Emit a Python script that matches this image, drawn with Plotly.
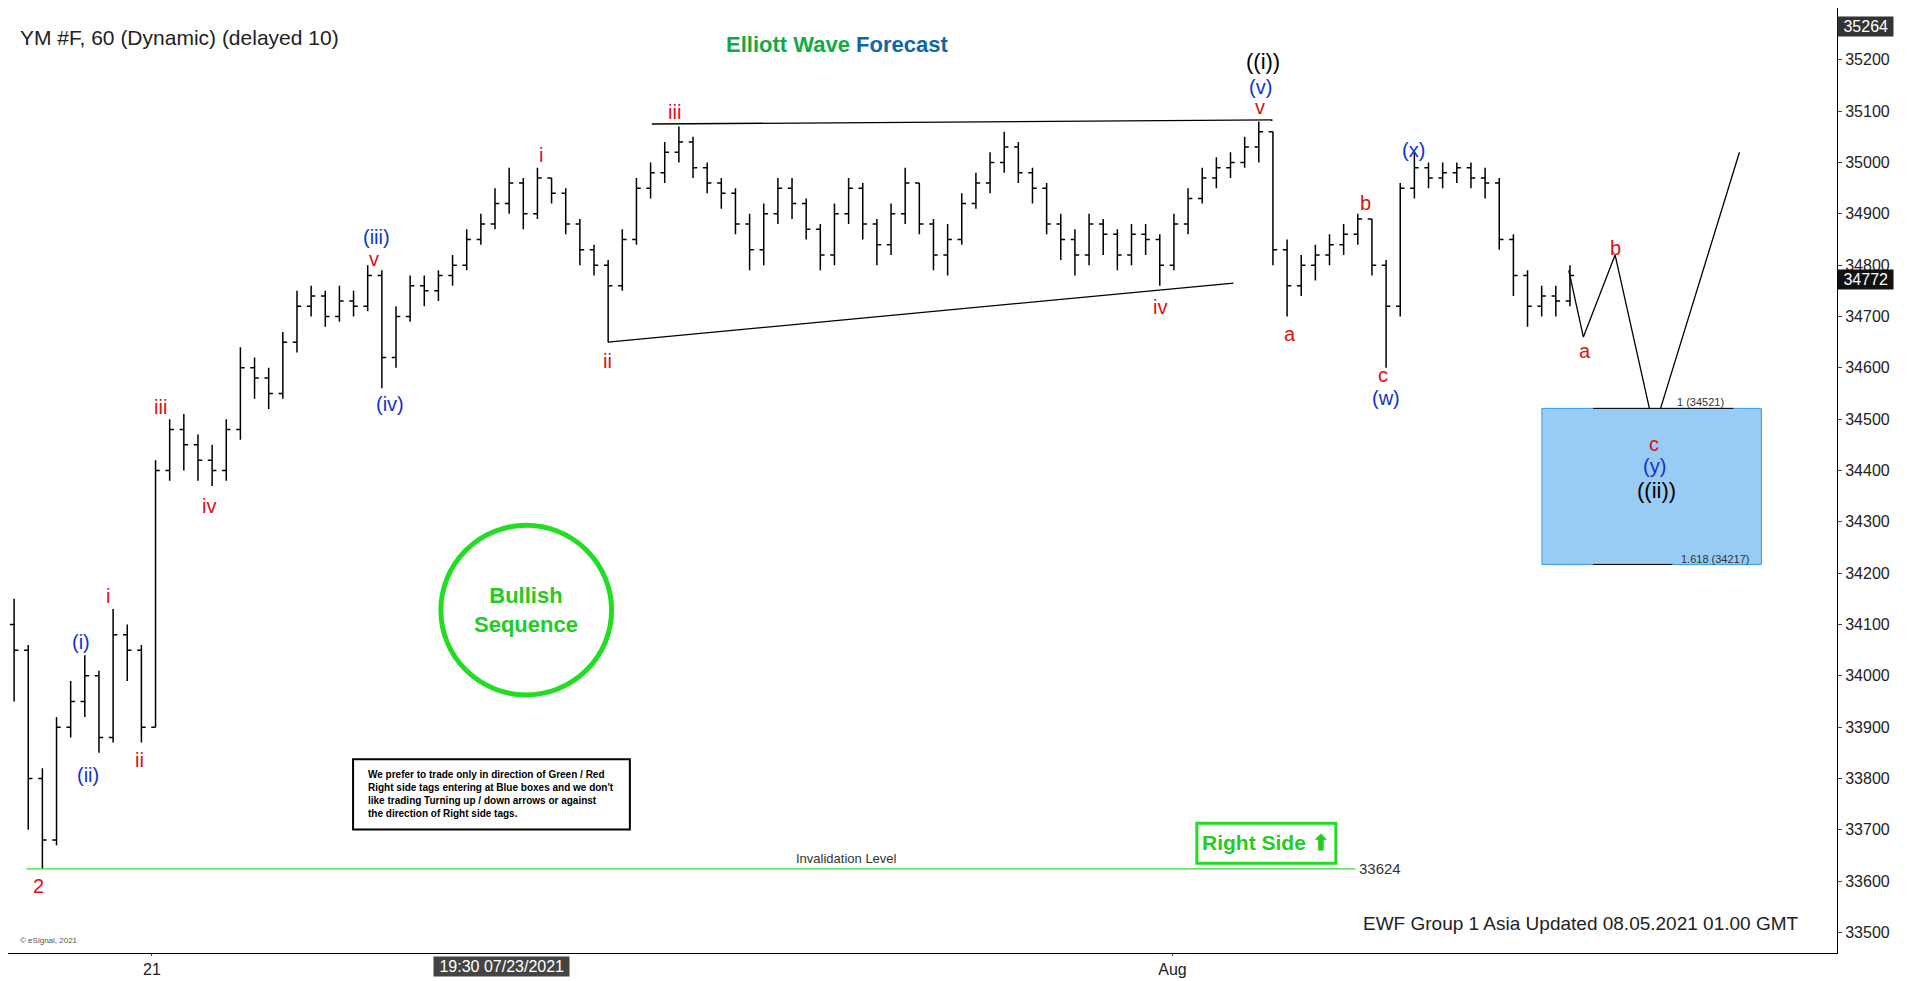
import plotly.graph_objects as go

bar_x = [5 + 11.6 * i for i in range(111)]
closes = [34050,33800,33680,33900,33950,34000,33880,34080,34050,33900,34400,34480,34450,34420,34400,34480,34600,34580,34550,34650,
          34720,34740,34700,34730,34720,34780,34620,34700,34760,34750,34780,34800,34850,34880,34920,34960,34900,34970,34940,34880,
          34830,34800,34760,34850,34950,34980,35020,35040,34990,34960,34940,34880,34830,34900,34950,34920,34870,34820,34900,34950,
          34880,34840,34900,34960,34880,34820,34850,34920,34960,35000,35030,34980,34950,34880,34850,34820,34880,34860,34820,34860,
          34850,34800,34880,34930,34970,34990,35000,35030,35060,34830,34760,34800,34820,34840,34860,34890,34800,34720,34950,34990,
          34970,34980,34990,34970,34960,34850,34780,34720,34740,34730,34780]
highs = [34150,34060,33820,33920,33990,34040,34010,34130,34100,34060,34420,34500,34510,34470,34450,34500,34640,34620,34600,34670,
         34750,34760,34750,34760,34750,34800,34790,34720,34780,34780,34790,34820,34870,34900,34950,34990,34970,34990,34970,34950,
         34890,34840,34810,34870,34970,35000,35040,35070,35050,35000,34970,34950,34900,34920,34970,34970,34930,34880,34920,34970,
         34960,34890,34920,34990,34960,34890,34880,34940,34980,35020,35060,35040,34990,34960,34900,34870,34900,34890,34870,34880,
         34880,34860,34900,34950,34990,35010,35020,35050,35080,35060,34850,34820,34840,34860,34880,34900,34890,34810,34960,35020,
         35000,35000,35000,35000,34990,34970,34860,34790,34760,34760,34800]
lows = [33950,33700,33624,33670,33880,33920,33850,33870,33990,33870,33900,34380,34400,34380,34370,34380,34460,34540,34520,34540,
        34630,34700,34680,34690,34700,34710,34560,34600,34690,34720,34730,34760,34790,34840,34870,34900,34870,34890,34920,34860,
        34800,34780,34650,34750,34840,34930,34960,35000,34970,34940,34910,34860,34790,34800,34880,34890,34850,34790,34800,34880,
        34850,34800,34820,34880,34860,34790,34780,34840,34910,34940,34980,34960,34920,34860,34810,34780,34800,34820,34790,34800,
        34820,34760,34790,34860,34920,34950,34970,34990,35000,34800,34700,34740,34770,34800,34820,34840,34780,34600,34700,34930,
        34950,34950,34960,34950,34930,34830,34740,34680,34700,34700,34720]
opens = [34100] + closes[:-1]

proj_x = [1280, 1292, 1318, 1350, 1420]
proj_y = [34790, 34660, 34820, 34480, 35020]

red_labels = [("2",25,725),("i",82,485),("ii",108,621),("iii",125,329),("iv",165,411),("v",300,207),("i",437,121),
              ("ii",492,291),("iii",547,86),("iv",945,247),("v",1027,82),("a",1051,269),("b",1113,161),("c",1128,303),
              ("a",1293,283),("b",1318,198),("c",1350,360)]
blue_labels = [("(i)",60,523),("(ii)",66,633),("(iii)",302,189),("(iv)",313,327),("(v)",1027,65),("(w)",1130,322),
               ("(x)",1153,117),("(y)",1350,378)]
black_labels = [("((i))",1029,44),("((ii))",1352,398)]

FONT = "Liberation Sans, Arial"
Y0, Y1 = 35301, 33460
def P(y):
    return Y0 - (Y0 - Y1) * y / 780

fig = go.Figure()
fig.add_trace(go.Ohlc(x=bar_x, open=opens, high=highs, low=lows, close=closes,
                      increasing_line_color="black", decreasing_line_color="black",
                      line_width=1.5, tickwidth=0.3, showlegend=False, hoverinfo="skip"))
fig.add_trace(go.Scatter(x=proj_x, y=proj_y, mode="lines", line=dict(color="black", width=1.3),
                         showlegend=False, hoverinfo="skip"))
shapes = [
    dict(type="line", x0=528, x1=1037, y0=35075, y1=35083, line=dict(color="black", width=1.3)),
    dict(type="line", x0=492, x1=1005, y0=34650, y1=34765, line=dict(color="black", width=1.3)),
    dict(type="line", x0=15, x1=1105, y0=33624, y1=33624, line=dict(color="#33dd33", width=1.3)),
    dict(type="rect", x0=1258, x1=1438, y0=34217, y1=34521, fillcolor="#99ccf5", line=dict(color="#3399ee", width=1)),
    dict(type="line", x0=1300, x1=1415, y0=34521, y1=34521, line=dict(color="black", width=1)),
    dict(type="line", x0=1300, x1=1365, y0=34217, y1=34217, line=dict(color="black", width=1)),
    dict(type="circle", x0=355, x1=495, y0=P(427), y1=P(567), line=dict(color="#22dd22", width=5)),
    dict(type="rect", x0=283, x1=510, y0=P(620), y1=P(678), line=dict(color="black", width=2), fillcolor="white"),
    dict(type="rect", x0=975, x1=1089, y0=P(673), y1=P(706), line=dict(color="#22dd22", width=3), fillcolor="white"),
]
ann = []
for t, x, y in red_labels:
    ann.append(dict(x=x, y=P(y), text=t, font=dict(color="#dd1111", size=20)))
for t, x, y in blue_labels:
    ann.append(dict(x=x, y=P(y), text=t, font=dict(color="#1133cc", size=20)))
for t, x, y in black_labels:
    ann.append(dict(x=x, y=P(y), text=t, font=dict(color="black", size=22)))
ann += [
    dict(x=425, y=P(497), text="<b>Bullish<br>Sequence</b>", font=dict(color="#22cc22", size=22)),
    dict(x=396, y=P(649), text="<b>We prefer to trade only in direction of Green / Red<br>Right side tags entering at Blue boxes and we don't<br>like trading Turning up / down arrows or against<br>the direction of Right side tags.</b>",
         font=dict(color="black", size=10), align="left"),
    dict(x=1032, y=P(689), text="<b>Right Side ⬆</b>", font=dict(color="#22cc22", size=21)),
    dict(x=688, y=P(702), text="Invalidation Level", font=dict(color="#333", size=13)),
    dict(x=1125, y=33624, text="33624", font=dict(color="#333", size=15)),
    dict(x=1388, y=P(325), text="1 (34521)", font=dict(color="#333", size=11)),
    dict(x=1400, y=P(455), text="1.618 (34217)", font=dict(color="#333", size=11)),
    dict(x=1290, y=P(756), text="EWF Group 1 Asia Updated 08.05.2021 01.00 GMT", font=dict(color="#222", size=19)),
    dict(x=8, y=P(24), text="YM #F, 60 (Dynamic) (delayed 10)", xanchor="left", font=dict(color="#222", size=21)),
    dict(x=680, y=P(30), text="<b><span style='color:#11aa44'>Elliott Wave</span> <span style='color:#1166aa'>Forecast</span></b>",
         font=dict(size=22)),
    dict(x=8, y=P(770), text="© eSignal, 2021", xanchor="left", font=dict(color="#555", size=8)),
    dict(x=1, xref="paper", y=35264, text=" 35264 ", xanchor="left", bgcolor="#333", font=dict(color="white", size=16)),
    dict(x=1, xref="paper", y=34772, text=" 34772 ", xanchor="left", bgcolor="#111", font=dict(color="white", size=16)),
    dict(x=405, y=0, yref="paper", yanchor="top", text=" 19:30 07/23/2021 ", bgcolor="#444",
         font=dict(color="white", size=16), yshift=-3),
]
for a in ann:
    a.setdefault("showarrow", False)
fig.update_layout(
    width=1912, height=981, margin=dict(l=0, r=83, t=0, b=36),
    plot_bgcolor="white", paper_bgcolor="white", font=dict(family=FONT),
    shapes=shapes, annotations=ann,
    xaxis=dict(range=[0, 1500], rangeslider=dict(visible=False), showgrid=False, zeroline=False,
               tickvals=[118, 955], ticktext=["21", "Aug"], tickfont=dict(size=16, color="#222"),
               showline=True, linecolor="black", ticks="outside", ticklen=2),
    yaxis=dict(range=[Y1, Y0], side="right", showgrid=False, zeroline=False, tickformat="d",
               tickvals=list(range(33500, 35201, 100)), tickfont=dict(size=16, color="#222"),
               showline=True, linecolor="black", ticks="outside", ticklen=4),
)
fig.write_html("out.html")
